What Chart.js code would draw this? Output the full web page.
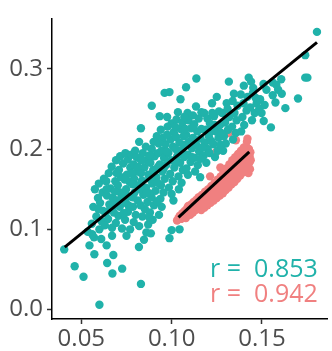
<!DOCTYPE html>
<html><head><meta charset="utf-8">
<script src="https://cdn.jsdelivr.net/npm/chart.js@4"></script>
<style>html,body{margin:0;padding:0;background:#fff;}#wrap{width:332px;height:351px;}</style>
</head><body><div id="wrap"><canvas id="c" width="332" height="351"></canvas></div>
<script>
const tealPoints = [
[0.0405,0.075],[0.0463,0.054],[0.0512,0.041],[0.0600,0.006],[0.0830,0.032],[0.0643,0.058],[0.0677,0.068],[0.0672,0.045],[0.0726,0.051],[0.0545,0.080],[0.0572,0.069],[0.0535,0.097],[0.0570,0.090],
[0.0560,0.094],[0.0610,0.088],[0.0640,0.080],[0.0600,0.100],[0.0558,0.107],[0.0583,0.116],[0.0566,0.128],[0.0592,0.139],[0.0575,0.150],[0.0612,0.110],[0.0621,0.123],[0.0604,0.133],[0.0618,0.146],[0.0597,0.157],[0.0625,0.163],
[0.0670,0.092],[0.0670,0.102],[0.0648,0.113],[0.0636,0.121],[0.0655,0.131],[0.0642,0.142],[0.0661,0.151],[0.0638,0.160],[0.0652,0.170],[0.0668,0.178],[0.0680,0.121],[0.0674,0.139],[0.0688,0.160],
[0.0691,0.108],[0.0705,0.117],[0.0713,0.128],[0.0698,0.136],[0.0716,0.146],[0.0702,0.155],[0.0720,0.165],[0.0708,0.174],[0.0692,0.186],[0.0715,0.191],[0.0725,0.101],[0.0731,0.182],
[0.0750,0.092],[0.0770,0.100],[0.0742,0.112],[0.0758,0.122],[0.0745,0.133],[0.0763,0.141],[0.0748,0.150],[0.0767,0.159],[0.0752,0.168],[0.0771,0.177],[0.0757,0.187],[0.0744,0.195],[0.0776,0.193],
[0.0820,0.104],[0.0790,0.109],[0.0801,0.118],[0.0786,0.128],[0.0812,0.136],[0.0795,0.146],[0.0816,0.155],[0.0792,0.163],[0.0809,0.172],[0.0788,0.181],[0.0814,0.189],[0.0798,0.198],[0.0820,0.209],[0.0784,0.156],
[0.0819,0.078],[0.0847,0.087],[0.0860,0.096],[0.0870,0.106],[0.0838,0.116],[0.0852,0.125],[0.0866,0.134],[0.0843,0.143],[0.0858,0.152],[0.0836,0.161],[0.0871,0.168],[0.0849,0.177],[0.0863,0.186],[0.0840,0.195],[0.0857,0.203],[0.0830,0.226],
[0.0885,0.095],[0.0895,0.112],[0.0880,0.121],[0.0902,0.130],[0.0889,0.140],[0.0911,0.148],[0.0893,0.157],[0.0915,0.165],[0.0898,0.174],[0.0882,0.183],[0.0906,0.191],[0.0890,0.200],[0.0900,0.209],[0.0890,0.254],[0.0934,0.241],[0.0918,0.216],
[0.0930,0.118],[0.0945,0.128],[0.0938,0.138],[0.0955,0.146],[0.0941,0.155],[0.0962,0.163],[0.0948,0.172],[0.0935,0.181],[0.0958,0.189],[0.0944,0.198],[0.0966,0.206],[0.0951,0.214],[0.0961,0.270],[0.0940,0.224],
[0.0988,0.089],[0.1000,0.099],[0.1010,0.136],[0.1000,0.144],[0.0985,0.152],[0.1006,0.160],[0.0992,0.169],[0.1015,0.177],[0.0997,0.186],[0.0982,0.195],[0.1008,0.203],[0.0994,0.212],[0.1012,0.221],[0.0988,0.271],[0.1000,0.232],[0.0975,0.240],
[0.1044,0.100],[0.1040,0.150],[0.1055,0.158],[0.1038,0.166],[0.1062,0.174],[0.1047,0.183],[0.1031,0.191],[0.1058,0.199],[0.1043,0.208],[0.1066,0.216],[0.1050,0.225],[0.1027,0.237],[0.1049,0.262],[0.1035,0.246],[0.1060,0.233],
[0.1158,0.165],[0.1090,0.168],[0.1082,0.176],[0.1105,0.184],[0.1090,0.193],[0.1112,0.201],[0.1096,0.209],[0.1080,0.218],[0.1108,0.226],[0.1088,0.245],[0.1080,0.277],[0.1093,0.236],[0.1118,0.214],
[0.1137,0.288],[0.1130,0.172],[0.1145,0.180],[0.1128,0.189],[0.1152,0.197],[0.1137,0.205],[0.1160,0.213],[0.1142,0.222],[0.1125,0.231],[0.1150,0.238],[0.1165,0.246],[0.1135,0.253],
[0.1180,0.245],[0.1192,0.183],[0.1178,0.192],[0.1200,0.200],[0.1185,0.208],[0.1206,0.216],[0.1190,0.224],[0.1212,0.232],[0.1224,0.257],[0.1198,0.238],
[0.1235,0.241],[0.1262,0.247],[0.1250,0.265],[0.1240,0.190],[0.1255,0.198],[0.1232,0.206],[0.1260,0.214],[0.1246,0.222],[0.1268,0.230],[0.1238,0.230],
[0.1305,0.257],[0.1317,0.284],[0.1285,0.198],[0.1300,0.207],[0.1290,0.216],[0.1312,0.224],[0.1296,0.233],[0.1320,0.240],[0.1280,0.245],[0.1310,0.250],
[0.1345,0.269],[0.1340,0.212],[0.1355,0.220],[0.1335,0.228],[0.1360,0.236],[0.1348,0.245],[0.1365,0.254],[0.1338,0.260],
[0.1400,0.279],[0.1427,0.289],[0.1385,0.222],[0.1402,0.230],[0.1392,0.240],[0.1415,0.248],[0.1398,0.257],[0.1420,0.265],[0.1383,0.268],
[0.1440,0.284],[0.1452,0.276],[0.1471,0.257],[0.1445,0.236],[0.1460,0.245],[0.1435,0.252],[0.1465,0.264],[0.1450,0.270],
[0.1498,0.245],[0.1510,0.235],[0.1509,0.281],[0.1525,0.274],[0.1490,0.262],[0.1515,0.255],[0.1485,0.250],
[0.1550,0.227],[0.1560,0.283],[0.1590,0.274],[0.1560,0.267],[0.1610,0.269],[0.1607,0.287],[0.1575,0.258],
[0.1630,0.251],[0.1700,0.263],[0.1740,0.289],[0.1752,0.289],[0.1740,0.317],[0.1805,0.346],
[0.0630,0.105],[0.0660,0.125],[0.0685,0.147],[0.0695,0.170],[0.0735,0.120],[0.0738,0.142],[0.0740,0.162],[0.0785,0.140],[0.0780,0.170],[0.0805,0.190],
[0.0828,0.130],[0.0826,0.150],[0.0830,0.170],[0.0832,0.186],[0.0875,0.115],[0.0875,0.145],[0.0878,0.163],[0.0876,0.192],[0.0920,0.135],[0.0922,0.158],
[0.0925,0.178],[0.0925,0.195],[0.0928,0.207],[0.0970,0.180],[0.0972,0.197],[0.0975,0.218],[0.0978,0.228],[0.1020,0.185],[0.1022,0.200],[0.1025,0.215],
[0.1020,0.228],[0.1070,0.190],[0.1072,0.205],[0.1075,0.225],[0.1070,0.240],[0.1115,0.190],[0.1120,0.228],[0.1118,0.242],[0.1160,0.188],[0.1165,0.225],
[0.1170,0.202],[0.1210,0.195],[0.1215,0.222],[0.1220,0.210],[0.1225,0.245],[0.1270,0.205],[0.1275,0.220],[0.1580,0.280],
[0.1050,0.195],[0.0955,0.175],[0.0860,0.145],[0.0812,0.178],[0.0760,0.130],[0.0720,0.138],[0.0680,0.130],[0.0640,0.150],[0.0595,0.125]
];
const pinkPoints = [
[0.1038,0.114],[0.1030,0.111],[0.1045,0.117],[0.1052,0.113],[0.1060,0.120],[0.1066,0.116],[0.1072,0.123],[0.1080,0.119],[0.1085,0.126],[0.1079,0.114],
[0.1092,0.129],[0.1098,0.122],[0.1103,0.118],[0.1108,0.131],[0.1112,0.126],[0.1118,0.121],[0.1122,0.134],[0.1126,0.129],[0.1133,0.124],[0.1137,0.137],
[0.1142,0.132],[0.1146,0.127],[0.1150,0.140],[0.1155,0.135],[0.1160,0.129],[0.1164,0.124],[0.1168,0.143],[0.1172,0.138],[0.1177,0.132],[0.1181,0.127],
[0.1185,0.147],[0.1190,0.141],[0.1194,0.135],[0.1198,0.130],[0.1203,0.150],[0.1207,0.144],[0.1212,0.138],[0.1216,0.133],[0.1213,0.166],[0.1220,0.154],
[0.1224,0.148],[0.1229,0.141],[0.1233,0.136],[0.1238,0.158],[0.1242,0.152],[0.1246,0.145],[0.1250,0.139],[0.1246,0.196],[0.1255,0.162],[0.1259,0.155],
[0.1263,0.148],[0.1267,0.142],[0.1270,0.177],[0.1272,0.166],[0.1276,0.159],[0.1280,0.152],[0.1284,0.145],[0.1288,0.171],[0.1292,0.163],[0.1296,0.156],
[0.1300,0.149],[0.1304,0.176],[0.1308,0.168],[0.1312,0.160],[0.1316,0.152],[0.1305,0.243],[0.1317,0.220],[0.1320,0.181],[0.1324,0.172],[0.1328,0.164],
[0.1332,0.156],[0.1336,0.186],[0.1340,0.177],[0.1344,0.168],[0.1348,0.159],[0.1356,0.211],[0.1352,0.190],[0.1356,0.181],[0.1360,0.172],[0.1364,0.163],
[0.1368,0.194],[0.1372,0.185],[0.1376,0.176],[0.1380,0.167],[0.1384,0.198],[0.1388,0.189],[0.1392,0.180],[0.1396,0.171],[0.1400,0.202],[0.1404,0.193],
[0.1408,0.184],[0.1412,0.175],[0.1417,0.209],[0.1420,0.213],[0.1416,0.197],[0.1420,0.188],[0.1424,0.179],[0.1428,0.200],[0.1432,0.191],[0.1430,0.183],
[0.1425,0.170],[0.1436,0.196],[0.1438,0.186],[0.1434,0.175]
];
const tealFit = [[0.0408,0.0778],[0.1805,0.333]];
const pinkFit = [[0.1038,0.115],[0.1430,0.1966]];
const xTicks = [0.05, 0.10, 0.15];
const xTickLabels = ['0.05', '0.10', '0.15'];
const yTicks = [0.0, 0.1, 0.2, 0.3];
const yTickLabels = ['0.0', '0.1', '0.2', '0.3'];
const rLabels = ['r =  0.853', 'r =  0.942'];

const TEAL = '#20B2AA', PINK = '#F08080';
const toXY = a => a.map(p => ({x: p[0], y: p[1]}));

const annot = {
  id: 'annot',
  afterDraw(chart) {
    const ctx = chart.ctx, a = chart.chartArea;
    ctx.save();
    ctx.font = '25px "Open Sans"';
    ctx.textAlign = 'right';
    ctx.textBaseline = 'alphabetic';
    ctx.fillStyle = TEAL;
    ctx.fillText(rLabels[0], a.right - 10, a.bottom - 42);
    ctx.fillStyle = PINK;
    ctx.fillText(rLabels[1], a.right - 10, a.bottom - 17);
    ctx.restore();
  }
};

const tickFont = {family: '"Open Sans"', size: 24};
new Chart(document.getElementById('c'), {
  type: 'scatter',
  data: {
    datasets: [
      {type: 'line', data: toXY(tealFit), borderColor: '#000', borderWidth: 3, pointRadius: 0, fill: false, order: 0},
      {type: 'line', data: toXY(pinkFit), borderColor: '#000', borderWidth: 3, pointRadius: 0, fill: false, order: 0},
      {data: toXY(tealPoints), backgroundColor: TEAL, pointRadius: 4.2, pointBorderWidth: 0, order: 1},
      {data: toXY(pinkPoints), backgroundColor: PINK, pointRadius: 4.2, pointBorderWidth: 0, order: 2}
    ]
  },
  options: {
    responsive: false, devicePixelRatio: 1, animation: false,
    layout: {padding: {top: 9, right: 1, left: 0, bottom: 0}},
    plugins: {legend: {display: false}, tooltip: {enabled: false}},
    scales: {
      x: {
        type: 'linear', min: 0.03374, max: 0.1865,
        afterBuildTicks: s => { s.ticks = xTicks.map(v => ({value: v})); },
        afterFit: s => { s.height = 32; },
        ticks: {callback: (v, i) => xTickLabels[i], color: '#4D4D4D', font: tickFont, padding: 1, maxRotation: 0, autoSkip: false},
        grid: {drawOnChartArea: false, drawTicks: true, tickLength: 5, tickColor: '#333', tickWidth: 1.5},
        border: {display: true, color: '#000', width: 1.5}
      },
      y: {
        type: 'linear', min: -0.0117, max: 0.3628,
        afterBuildTicks: s => { s.ticks = yTicks.map(v => ({value: v})); },
        afterFit: s => { s.width = 52; },
        ticks: {callback: (v, i) => yTickLabels[i], color: '#4D4D4D', font: tickFont, padding: 4, autoSkip: false},
        grid: {drawOnChartArea: false, drawTicks: true, tickLength: 5, tickColor: '#333', tickWidth: 1.5},
        border: {display: true, color: '#000', width: 1.5}
      }
    }
  },
  plugins: [annot]
});
</script></body></html>
